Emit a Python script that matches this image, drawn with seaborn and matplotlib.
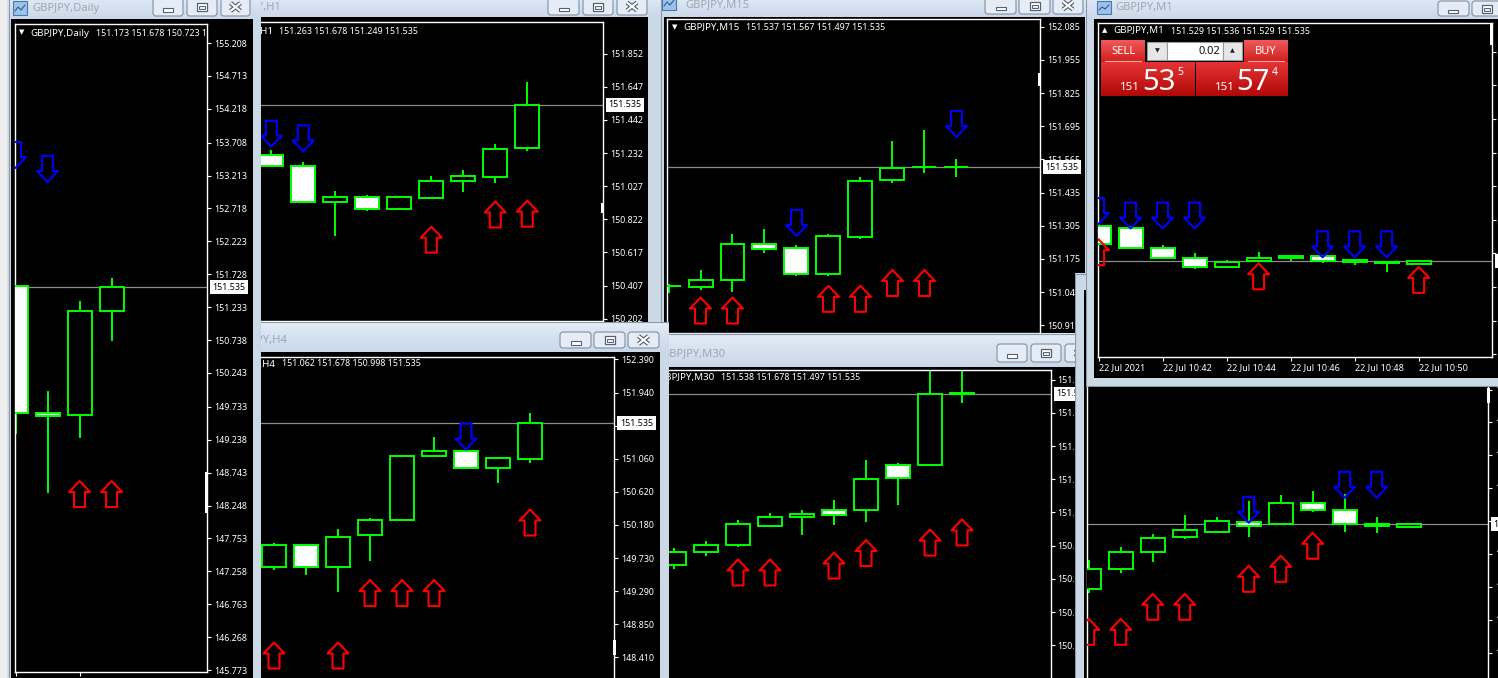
import numpy as np
import matplotlib
matplotlib.use("Agg")
import matplotlib.pyplot as plt
import seaborn as sns
from matplotlib.patches import Rectangle, FancyBboxPatch
from matplotlib.path import Path
from matplotlib.colors import LinearSegmentedColormap

# ------------------------------------------------------------------ data
symbol = "GBPJPY"

# Daily
d1_open = [151.556, 149.636, 149.606, 151.173]
d1_high = [151.556, 149.971, 151.326, 151.678]
d1_low = [149.324, 148.441, 149.269, 150.723]
d1_close = [149.640, 149.590, 151.173, 151.535]
d1_up_idx, d1_up_val = [2, 3], [148.421, 148.421]
d1_dn_idx, d1_dn_val = [0, 1], [153.523, 153.312]
d1_ticks = ["155.208", "154.713", "154.218", "153.708", "153.213", "152.718", "152.223",
            "151.728", "151.233", "150.738", "150.243", "149.733", "149.238", "148.743",
            "148.248", "147.753", "147.258", "146.763", "146.268", "145.773"]
d1_header = "151.173 151.678 150.723 151.535"

# H1
h1_open = [151.222, 151.152, 150.929, 150.959, 150.884, 150.956, 151.058, 151.087, 151.263]
h1_high = [151.254, 151.181, 150.998, 150.973, 150.967, 151.093, 151.129, 151.291, 151.678]
h1_low = [151.152, 150.921, 150.717, 150.875, 150.884, 150.950, 150.994, 151.046, 151.249]
h1_close = [151.152, 150.928, 150.959, 150.884, 150.959, 151.058, 151.090, 151.258, 151.535]
h1_up_idx, h1_up_val = [5, 7, 8], [150.694, 150.851, 150.856]
h1_dn_idx, h1_dn_val = [0, 1], [151.355, 151.326]
h1_ticks = ["151.852", "151.647", "151.442", "151.232", "151.027", "150.822", "150.617",
            "150.407", "150.202"]
h1_header = "151.263 151.678 151.249 151.535"

# M15
m15_open = [151.068, 151.064, 151.091, 151.232, 151.217, 151.115, 151.262, 151.483, 151.535, 151.537]
m15_high = [151.077, 151.132, 151.272, 151.292, 151.230, 151.272, 151.495, 151.637, 151.680, 151.567]
m15_low = [151.042, 151.055, 151.047, 151.200, 151.110, 151.110, 151.252, 151.474, 151.511, 151.497]
m15_close = [151.070, 151.091, 151.232, 151.213, 151.115, 151.264, 151.479, 151.530, 151.537, 151.535]
m15_up_idx, m15_up_val = [1, 2, 5, 6, 7, 8], [150.973, 150.973, 151.019, 151.019, 151.081, 151.081]
m15_dn_idx, m15_dn_val = [4, 9], [151.316, 151.704]
m15_ticks = ["152.085", "151.955", "151.825", "151.695", "151.565", "151.435", "151.305",
             "151.175", "151.045", "150.915"]
m15_header = "151.537 151.567 151.497 151.535"

# M1
m1_open = [151.624, 151.619, 151.569, 151.543, 151.520, 151.536, 151.543, 151.548, 151.534, 151.534, 151.529]
m1_high = [151.630, 151.625, 151.575, 151.555, 151.538, 151.559, 151.551, 151.548, 151.538, 151.534, 151.536]
m1_low = [151.575, 151.566, 151.540, 151.515, 151.520, 151.536, 151.536, 151.530, 151.526, 151.507, 151.529]
m1_close = [151.579, 151.569, 151.543, 151.520, 151.534, 151.543, 151.548, 151.537, 151.538, 151.530, 151.535]
m1_up_idx, m1_up_val = [0, 5, 10], [151.558, 151.497, 151.488]
m1_dn_idx, m1_dn_val = [0, 1, 2, 3, 7, 8, 9], [151.662, 151.651, 151.651, 151.651, 151.578, 151.578, 151.578]
m1_ticks = ["152.065", "151.980", "151.895", "151.810", "151.725", "151.640", "151.555",
            "151.470", "151.385", "151.300"]
m1_time_idx = [0, 2, 4, 6, 8, 10]
m1_time_labels = ["22 Jul 2021", "22 Jul 10:42", "22 Jul 10:44", "22 Jul 10:46",
                  "22 Jul 10:48", "22 Jul 10:50"]
m1_header = "151.529 151.536 151.529 151.535"
m1_bid = "151.535"
m1_ask = "151.574"
m1_lot = "0.02"

# lower right chart
br_open = [151.405, 151.445, 151.480, 151.509, 151.520, 151.540, 151.535, 151.577, 151.563, 151.535, 151.530]
br_high = [151.464, 151.490, 151.516, 151.554, 151.550, 151.582, 151.594, 151.602, 151.595, 151.550, 151.535]
br_low = [151.398, 151.438, 151.460, 151.505, 151.518, 151.510, 151.535, 151.560, 151.520, 151.517, 151.530]
br_close = [151.445, 151.479, 151.507, 151.523, 151.541, 151.532, 151.577, 151.564, 151.535, 151.532, 151.535]
br_up_idx, br_up_val = [0, 1, 2, 3, 5, 6, 7], [151.320, 151.320, 151.370, 151.370, 151.426, 151.446, 151.492]
br_dn_idx, br_dn_val = [5, 8, 9], [151.564, 151.614, 151.614]
br_ticks = ["151.804", "151.739", "151.674", "151.608", "151.542", "151.476", "151.410",
            "151.344", "151.278"]

# H4
h4_open = [149.613, 149.907, 149.613, 150.041, 150.241, 151.097, 151.164, 150.937, 151.062]
h4_high = [149.930, 149.907, 150.121, 150.270, 151.110, 151.351, 151.200, 151.085, 151.678]
h4_low = [149.573, 149.506, 149.279, 149.694, 150.230, 151.085, 150.920, 150.736, 150.998]
h4_close = [149.907, 149.613, 150.014, 150.241, 151.097, 151.164, 150.937, 151.070, 151.535]
h4_up_idx, h4_up_val = [0, 2, 3, 4, 5, 8], [148.430, 148.430, 149.266, 149.266, 149.266, 150.208]
h4_dn_idx, h4_dn_val = [6], [151.358]
h4_ticks = ["152.390", "151.940", "151.500", "151.060", "150.620", "150.180", "149.730",
            "149.290", "148.850", "148.410"]
h4_header = "151.062 151.678 150.998 151.535"

# M30
m30_open = [150.864, 150.915, 150.943, 151.017, 151.052, 151.080, 151.080, 151.256, 151.256, 151.538]
m30_high = [150.930, 150.960, 151.040, 151.068, 151.080, 151.119, 151.275, 151.264, 151.628, 151.678]
m30_low = [150.850, 150.900, 150.935, 151.012, 150.982, 151.021, 151.033, 151.099, 151.252, 151.497]
m30_close = [150.915, 150.943, 151.025, 151.052, 151.064, 151.060, 151.201, 151.205, 151.534, 151.535]
m30_up_idx, m30_up_val = [2, 3, 5, 6, 8, 9], [150.835, 150.835, 150.862, 150.911, 150.952, 150.992]
m30_dn_idx, m30_dn_val = [], []
m30_ticks = ["151.590", "151.460", "151.330", "151.200", "151.070", "150.940", "150.810",
             "150.680", "150.550"]
m30_header = "151.538 151.678 151.497 151.535"

last_price = 151.535

# ------------------------------------------------------------------ style
sns.set_theme(style="ticks")
plt.rcParams["font.family"] = ["Noto Sans", "DejaVu Sans"]

W, H = 1498, 678
fig = plt.figure(figsize=(W / 100, H / 100), dpi=100)
fig.patch.set_facecolor("#cad7e5")

LIME = "#00ff00"
FRAME = "#cbd8e6"
TITLE_FG = "#9ca7b3"
LBL = 6.4
NAME = 7.0

UP = Path([(-5.5, -13), (5.5, -13), (5.5, 2), (10.5, 2), (0, 13), (-10.5, 2), (-5.5, 2), (-5.5, -13)],
          [Path.MOVETO] + [Path.LINETO] * 6 + [Path.CLOSEPOLY])
DOWN = Path([(x, -y) for x, y in UP.vertices], UP.codes)
ARROW_S = 350


def px_rect(x0, y0, x1, y1):
    return [x0 / W, 1 - y1 / H, (x1 - x0) / W, (y1 - y0) / H]


def pixel_axes(box, z):
    ax = fig.add_axes(px_rect(*box), zorder=z)
    ax.set_xlim(box[0], box[2])
    ax.set_ylim(box[3], box[1])
    ax.set_axis_off()
    return ax


def grad_rect(ax, x0, y0, x1, y1, ctop, cbot, z=1):
    cmap = LinearSegmentedColormap.from_list("g", [ctop, cbot])
    ax.imshow(np.linspace(0, 1, 64).reshape(-1, 1), extent=(x0, x1, y1, y0),
              aspect="auto", cmap=cmap, zorder=z, interpolation="bilinear")


def draw_button(ax, bx0, bx1, by0, by1, kind):
    ax.add_patch(FancyBboxPatch((bx0, by0), bx1 - bx0, by1 - by0,
                                boxstyle="round,pad=0,rounding_size=3",
                                fc="#e5ecf5", ec="#7f90a4", lw=0.8, zorder=4))
    cx, cy = (bx0 + bx1) / 2, (by0 + by1) / 2
    ic = "#56626f"
    if kind == "min":
        ax.add_patch(Rectangle((cx - 5, cy + 1), 10, 3.5, fc="white", ec=ic, lw=0.8, zorder=5))
    elif kind == "max":
        ax.add_patch(Rectangle((cx - 5, cy - 4), 10, 8, fc="white", ec=ic, lw=0.9, zorder=5))
        ax.add_patch(Rectangle((cx - 3, cy - 1), 6, 3, fc="#e5ecf5", ec=ic, lw=0.7, zorder=6))
    else:
        for lw, col, zz in [(3.2, ic, 5), (1.5, "white", 6)]:
            ax.plot([cx - 5, cx + 5], [cy - 4, cy + 4], color=col, lw=lw, zorder=zz, solid_capstyle="butt")
            ax.plot([cx - 5, cx + 5], [cy + 4, cy - 4], color=col, lw=lw, zorder=zz, solid_capstyle="butt")


def draw_window(frame, title_h, client, z, title, tx, ty, tha, buttons, icon=None):
    ax = pixel_axes(frame, z)
    x0, y0, x1, y1 = frame
    ax.add_patch(Rectangle((x0, y0), x1 - x0, y1 - y0, fc=FRAME, ec="none", zorder=0))
    grad_rect(ax, x0, y0, x1, y0 + title_h, "#e3ecf7", "#cad8e9", 1)
    ax.add_patch(Rectangle((x0 + 0.5, y0 + 0.5), x1 - x0 - 1, y1 - y0 - 1, fc="none",
                           ec="#8a9aad", lw=0.8, zorder=2))
    cx0, cy0, cx1, cy1 = client
    ax.add_patch(Rectangle((cx0, cy0), cx1 - cx0, cy1 - cy0, fc="black", ec="none", zorder=2))
    if title:
        ax.text(tx, ty, title, ha=tha, va="center", color=TITLE_FG, fontsize=8, zorder=3, clip_on=True)
    if icon is not None:
        ix0, iy0, ix1, iy1 = icon
        ax.add_patch(Rectangle((ix0, iy0), ix1 - ix0, iy1 - iy0, fc="#9cc1ea", ec="#4a78ad", lw=0.8, zorder=3))
        ax.plot([ix0 + 2, ix0 + 5, ix0 + 8, ix1 - 2], [iy1 - 4, iy0 + 6, iy1 - 5, iy0 + 4],
                color="#2d5c96", lw=0.8, zorder=4)
    for b in buttons:
        draw_button(ax, *b)
    ax.set_xlim(x0, x1)
    ax.set_ylim(y1, y0)
    return ax


def arrows(ax, idx, val, path, color):
    if len(idx) == 0:
        return
    sns.scatterplot(x=np.asarray(idx, float), y=np.asarray(val, float), marker=path, s=ARROW_S,
                    color=color, linewidth=1.5, ax=ax, zorder=5, legend=False)
    coll = ax.collections[-1]
    coll.set_facecolor("none")
    coll.set_edgecolor(color)


def draw_chart(rect, z, xlim, ylim, o, h, l, c, up, dn, ticks, xticks=None, xlabels=None):
    ax = fig.add_axes(px_rect(*rect), zorder=z)
    ax.set_facecolor("black")
    for s in ax.spines.values():
        s.set_color("white")
        s.set_linewidth(1.0)
    o, h, l, c = (np.asarray(v, float) for v in (o, h, l, c))
    idx = np.arange(len(o))
    ax.axhline(last_price, color="#8c8c8c", lw=0.9, zorder=1)
    ax.vlines(idx, l, h, color=LIME, lw=1.4, zorder=2)
    bull = c >= o
    ax.bar(idx, np.abs(c - o), width=0.75, bottom=np.minimum(o, c),
           color=["black" if b else "white" for b in bull], edgecolor=LIME, linewidth=1.4, zorder=3)
    arrows(ax, up[0], up[1], UP, "#ff0000")
    arrows(ax, dn[0], dn[1], DOWN, "#0000ff")
    ax.set_xlim(*xlim)
    ax.set_ylim(*ylim)
    ax.set_xlabel("")
    ax.set_ylabel("")
    ax.set_yticks([float(t) for t in ticks])
    ax.set_yticklabels(ticks)
    ax.yaxis.tick_right()
    ax.tick_params(axis="y", colors="white", labelcolor="white", direction="out", length=3,
                   width=0.8, labelsize=LBL, pad=2)
    if xticks is None:
        ax.set_xticks([])
    else:
        ax.set_xticks(xticks)
        ax.set_xticklabels(xlabels if xlabels is not None else [""] * len(xticks), ha="left")
        ax.tick_params(axis="x", colors="white", labelcolor="white", direction="out", length=3,
                       width=0.8, labelsize=6.5, pad=1.5, bottom=True)
    ax.grid(False)
    ax.annotate(f"{last_price:.3f}", xy=(1, last_price), xycoords=("axes fraction", "data"),
                xytext=(4, 0), textcoords="offset points", ha="left", va="center",
                fontsize=LBL, color="black", zorder=10, annotation_clip=False,
                bbox=dict(boxstyle="square,pad=0.3", fc="white", ec="none"))
    return ax


def overlay(frame, z):
    return pixel_axes(frame, z)


def header(ax, chart_rect, parts):
    x0, y0, x1, y1 = chart_rect
    clip = Rectangle((x0, y0), x1 - x0, y1 - y0, transform=ax.transData, fc="none")
    for (x, y, s, ha, fs) in parts:
        t = ax.text(x, y, s, ha=ha, va="center", color="white", fontsize=fs, zorder=5, clip_on=True)
        t.set_clip_path(clip)


def shift_marker(ax, x, y, w, h):
    ax.add_patch(Rectangle((x, y), w, h, fc="white", ec="none", zorder=6))


# ------------------------------------------------------------------ left strip
strip = pixel_axes((0, 0, 9, H), 0.5)
strip.add_patch(Rectangle((0, 0), 9, H, fc="#eeeeee", ec="none"))
strip.plot([7.5, 7.5], [0, H], color="#9aa3ad", lw=1)
strip.set_xlim(0, 9)
strip.set_ylim(H, 0)

# ------------------------------------------------------------------ M15 (z 1)
fr = (660, -5, 1089, 338)
draw_window(fr, 22, (664, 17, 1085, 338), 1.0, f"{symbol},M15", 685, 4.5, "left",
            [(985, 1016, -3, 14, "min"), (1019, 1050, -3, 14, "max"), (1053, 1083, -3, 14, "close")],
            icon=(662, -4, 676, 10))
cr = (667, 19.3, 1040, 333)
draw_chart(cr, 1.01, (-0.047, 11.61), (150.885, 152.114), m15_open, m15_high, m15_low, m15_close,
           (m15_up_idx, m15_up_val), (m15_dn_idx, m15_dn_val), m15_ticks)
ov = overlay(fr, 1.02)
header(ov, cr, [(672, 27.3, "▼", "left", 5), (683, 27.3, f"{symbol},M15", "left", NAME),
                (746, 27.3, m15_header, "left", LBL)])
shift_marker(ov, 1038, 72.7, 3, 13)

# ------------------------------------------------------------------ H1 (z 2)
fr = (258, -5, 661, 330)
draw_window(fr, 22, (259, 17, 648, 330), 2.0, f"{symbol},H1", 281, 7, "right",
            [(548, 579, -2, 15, "min"), (583, 613, -2, 15, "max"), (617, 647, -2, 15, "close")])
cr = (255, 22, 603, 320.7)
draw_chart(cr, 2.01, (-0.509, 10.366), (150.189, 152.051), h1_open, h1_high, h1_low, h1_close,
           (h1_up_idx, h1_up_val), (h1_dn_idx, h1_dn_val), h1_ticks)
ov = overlay(fr, 2.02)
header(ov, cr, [(273, 31, f"▼ {symbol},H1", "right", NAME), (279, 31, h1_header, "left", LBL)])
shift_marker(ov, 601, 203, 3, 10)

# ------------------------------------------------------------------ M30 (z 3)
fr = (662, 333, 1080, 683)
draw_window(fr, 34, (667, 367, 1077, 683), 3.0, f"{symbol},M30", 725, 354, "right",
            [(997, 1027, 344, 362, "min"), (1031, 1061, 344, 362, "max"), (1065, 1095, 344, 362, "close")])
cr = (666, 370, 1050.7, 690)
draw_chart(cr, 3.01, (-0.25, 11.77), (150.3747, 151.6278), m30_open, m30_high, m30_low, m30_close,
           (m30_up_idx, m30_up_val), (m30_dn_idx, m30_dn_val), m30_ticks)
ov = overlay(fr, 3.02)
header(ov, cr, [(714, 377.7, f"▼ {symbol},M30", "right", NAME), (721, 377.7, m30_header, "left", LBL)])

# ------------------------------------------------------------------ lower right (z 4)
fr = (1075, 273, 1503, 683)
draw_window(fr, 0, (1084, 290, 1503, 683), 4.0, "", 1100, 280, "left", [])
cr = (1087, 372, 1488, 690)
draw_chart(cr, 4.01, (-0.053, 12.478), (151.2036, 151.8396), br_open, br_high, br_low, br_close,
           (br_up_idx, br_up_val), (br_dn_idx, br_dn_val), br_ticks)
ov = overlay(fr, 4.02)
shift_marker(ov, 1487, 388, 3, 15)

# ------------------------------------------------------------------ M1 (z 5)
fr = (1086, -5, 1503, 387)
draw_window(fr, 24, (1094, 19, 1503, 378), 5.0, f"{symbol},M1", 1115, 7, "left",
            [(1438, 1469, 1, 16, "min"), (1472, 1503, 1, 16, "max")], icon=(1097, 1, 1111, 14))
cr = (1098, 22.7, 1492.3, 357.3)
draw_chart(cr, 5.01, (-0.016, 12.30), (151.2921, 152.1387), m1_open, m1_high, m1_low, m1_close,
           (m1_up_idx, m1_up_val), (m1_dn_idx, m1_dn_val), m1_ticks,
           xticks=m1_time_idx, xlabels=m1_time_labels)
ov = overlay(fr, 5.02)
header(ov, cr, [(1102, 31, "▲", "left", 5), (1113, 31, f"{symbol},M1", "left", NAME),
                (1171, 31, m1_header, "left", LBL)])
shift_marker(ov, 1490, 23, 3, 22)
# one-click trading panel
grad_rect(ov, 1101, 40, 1145, 62, "#f15a5a", "#d01e1e", 3)
grad_rect(ov, 1244, 40, 1288, 62, "#f15a5a", "#d01e1e", 3)
ov.plot([1105, 1141], [61.3, 61.3], color="#f4a4a4", lw=0.8, zorder=4)
ov.plot([1248, 1284], [61.3, 61.3], color="#f4a4a4", lw=0.8, zorder=4)
ov.text(1123, 51, "SELL", ha="center", va="center", color="white", fontsize=8, zorder=5)
ov.text(1266, 51, "BUY", ha="center", va="center", color="white", fontsize=8, zorder=5)
ov.add_patch(Rectangle((1147, 42), 20, 18, fc="#e6e6e6", ec="#9a9a9a", lw=0.8, zorder=3))
ov.add_patch(Rectangle((1167, 42), 56, 18, fc="white", ec="#9a9a9a", lw=0.8, zorder=3))
ov.add_patch(Rectangle((1223, 42), 19, 18, fc="#e6e6e6", ec="#9a9a9a", lw=0.8, zorder=3))
ov.text(1157, 50.5, "▼", ha="center", va="center", color="#222222", fontsize=4.5, zorder=5,
        family="DejaVu Sans")
ov.text(1232.5, 50.5, "▲", ha="center", va="center", color="#222222", fontsize=4.5, zorder=5,
        family="DejaVu Sans")
ov.text(1220, 51, m1_lot, ha="right", va="center", color="#111111", fontsize=8, zorder=5)
grad_rect(ov, 1101, 62, 1194.5, 96, "#e63434", "#b00808", 3)
grad_rect(ov, 1196, 62, 1288, 96, "#e63434", "#b00808", 3)
for px, big_x, sup_x, price in [(1120, 1142, 1177, m1_bid), (1215, 1236, 1272, m1_ask)]:
    ov.text(px, 90, price[:3], ha="left", va="baseline", color="white", fontsize=8.3, zorder=5)
    ov.text(big_x, 90, price[4:6], ha="left", va="baseline", color="white", fontsize=21, zorder=5)
    ov.text(sup_x, 67, price[6:], ha="left", va="top", color="white", fontsize=7.5, zorder=5)
ov.set_xlim(fr[0], fr[2])
ov.set_ylim(fr[3], fr[1])

# ------------------------------------------------------------------ H4 (z 6)
fr = (258, 321.7, 669, 683)
draw_window(fr, 30, (259, 352, 660, 683), 6.0, f"{symbol},H4", 287, 340, "right",
            [(560, 591, 332, 348, "min"), (594, 625, 332, 348, "max"), (628, 659, 332, 348, "close")])
cr = (255, 356.7, 614.3, 690)
draw_chart(cr, 6.01, (-0.594, 10.634), (147.969, 152.4247), h4_open, h4_high, h4_low, h4_close,
           (h4_up_idx, h4_up_val), (h4_dn_idx, h4_dn_val), h4_ticks)
ov = overlay(fr, 6.02)
header(ov, cr, [(275, 364, f"▼ {symbol},H4", "right", NAME), (282, 364, h4_header, "left", LBL)])
shift_marker(ov, 612.5, 640, 3, 15)

# ------------------------------------------------------------------ Daily (z 7)
fr = (8, -5, 261, 683)
draw_window(fr, 24, (11, 19, 253, 683), 7.0, f"{symbol},Daily", 32, 8.5, "left",
            [(153, 183, -2, 16, "min"), (187, 217, -2, 16, "max"), (221, 250, -2, 16, "close")],
            icon=(13, 1, 27, 15))
cr = (15, 24, 207, 672)
draw_chart(cr, 7.01, (-0.016, 5.98), (145.743, 155.494), d1_open, d1_high, d1_low, d1_close,
           (d1_up_idx, d1_up_val), (d1_dn_idx, d1_dn_val), d1_ticks, xticks=[0, 2])
ov = overlay(fr, 7.02)
header(ov, cr, [(19, 33, "▼", "left", 5), (30, 33, f"{symbol},Daily", "left", NAME),
                (96, 33, d1_header, "left", LBL)])
shift_marker(ov, 205, 472, 3, 41)

fig.savefig("out.png", dpi=100, facecolor=fig.get_facecolor())
